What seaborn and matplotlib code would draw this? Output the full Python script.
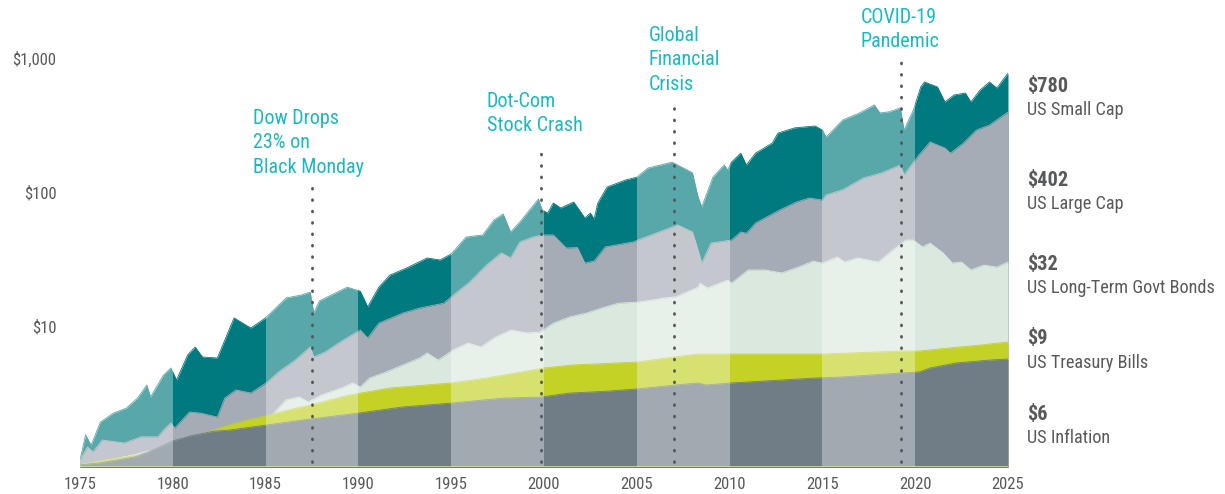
import numpy as np
import pandas as pd
import seaborn as sns
import matplotlib.pyplot as plt
from matplotlib import font_manager as fm
from matplotlib.ticker import NullLocator

sns.set_style("white")

# the original uses a condensed face; use one if the box has it
ttf = fm.fontManager.ttflist
avail = {f.name for f in ttf}
if 'Liberation Sans Narrow' in avail:
    plt.rcParams['font.family'] = ['Liberation Sans Narrow', 'DejaVu Sans']
elif 'Roboto Condensed' in avail:
    plt.rcParams['font.family'] = ['Roboto Condensed', 'DejaVu Sans']
elif any(f.name == 'DejaVu Sans' and f.stretch == 'condensed' for f in ttf):
    plt.rcParams['font.family'] = ['DejaVu Sans']
    plt.rcParams['font.stretch'] = 'condensed'
else:
    plt.rcParams['font.family'] = ['Liberation Sans', 'DejaVu Sans']

# growth of $1 (log scale)
small_cap_year = [1975.0, 1975.1, 1975.3, 1975.6, 1976.1, 1976.8, 1977.5, 1978.1, 1978.6, 1978.8,
                  1979.5, 1979.9, 1980.2, 1980.8, 1981.2, 1981.6, 1982.4, 1983.3, 1984.2, 1985.0,
                  1986.1, 1986.9, 1987.4, 1987.6, 1987.9, 1989.4, 1990.1, 1990.5, 1991.1, 1991.7,
                  1992.6, 1993.7, 1994.4, 1995.0, 1995.8, 1996.7, 1997.3, 1997.8, 1998.2, 1998.7,
                  1999.7, 1999.9, 2000.2, 2000.5, 2000.9, 2001.6, 2001.9, 2002.2, 2002.5, 2002.7,
                  2002.9, 2003.4, 2004.4, 2005.0, 2005.6, 2006.9, 2007.2, 2008.0, 2008.3, 2008.5,
                  2009.1, 2009.7, 2009.9, 2010.1, 2010.6, 2010.9, 2011.4, 2012.3, 2012.6, 2013.5,
                  2014.6, 2015.0, 2015.2, 2016.1, 2017.0, 2017.8, 2018.1, 2018.6, 2019.2, 2019.4,
                  2019.9, 2020.3, 2020.5, 2021.2, 2021.6, 2022.1, 2022.7, 2023.0, 2023.5, 2024.0,
                  2024.4, 2025.0]
small_cap = [1.0, 1.15, 1.54, 1.29, 1.92, 2.24, 2.44, 2.90, 3.63, 2.95,
             4.31, 4.86, 3.95, 6.08, 6.97, 5.87, 5.77, 11.5, 9.66, 11.5,
             16.2, 17.0, 17.9, 12.5, 15.4, 19.5, 18.2, 13.9, 19.5, 24.0,
             27.1, 32.2, 31.1, 34.5, 46.1, 47.8, 61.8, 68.5, 50.3, 59.7,
             88.7, 73.4, 69.7, 82.8, 76.0, 84.2, 73.4, 64.0, 69.7, 62.9,
             82.8, 109, 123, 129, 151, 167, 159, 139, 91.8, 77.3,
             129, 159, 146, 167, 195, 159, 195, 232, 275, 301,
             311, 290, 257, 345, 389, 446, 389, 397, 424, 290,
             409, 608, 662, 608, 470, 530, 548, 470, 577, 662,
             597, 770]

large_cap_year = [1975.0, 1975.4, 1975.7, 1976.2, 1977.4, 1978.3, 1979.2, 1979.6, 1979.9, 1980.1,
                  1980.9, 1981.5, 1982.4, 1982.8, 1983.4, 1984.2, 1985.1, 1985.7, 1986.6, 1987.4,
                  1987.6, 1988.2, 1989.2, 1990.1, 1990.5, 1991.1, 1992.4, 1993.3, 1994.6, 1995.0,
                  1996.0, 1996.9, 1997.7, 1998.2, 1998.7, 1999.4, 1999.9, 2000.5, 2001.2, 2001.8,
                  2002.2, 2002.7, 2003.3, 2004.8, 2006.2, 2007.2, 2008.0, 2008.3, 2008.5, 2009.0,
                  2010.1, 2010.6, 2010.9, 2011.4, 2012.7, 2013.6, 2014.3, 2015.0, 2015.2, 2016.1,
                  2017.2, 2018.2, 2019.2, 2019.4, 2020.2, 2020.8, 2021.6, 2021.9, 2022.6, 2023.3,
                  2024.0, 2025.0]
large_cap = [1.0, 1.25, 1.15, 1.41, 1.34, 1.49, 1.49, 1.73, 1.89, 1.73,
             2.28, 2.24, 2.09, 2.90, 3.33, 3.16, 3.82, 4.54, 5.57, 6.97,
             5.87, 6.39, 7.87, 9.33, 8.13, 10.5, 12.5, 13.6, 14.8, 16.5,
             21.3, 28.5, 35.1, 32.2, 42.4, 46.1, 47.8, 47.8, 38.2, 38.5,
             29.5, 30.5, 38.9, 42.4, 50.3, 56.8, 50.3, 36.9, 29.5, 41.6,
             43.8, 50.3, 49.2, 58.7, 73.4, 84.2, 90.2, 87.0, 95.0, 104,
             127, 139, 159, 134, 189, 236, 213, 195, 232, 290,
             316, 395]

bond_year = [1975.0, 1976.0, 1977.0, 1978.0, 1978.7, 1979.5, 1980.0, 1981.0, 1982.0, 1983.0,
             1984.0, 1985.0, 1985.6, 1986.1, 1986.8, 1987.3, 1988.0, 1989.1, 1989.7, 1990.1,
             1990.6, 1991.5, 1992.4, 1993.3, 1993.7, 1994.3, 1995.1, 1995.9, 1996.6, 1997.3,
             1998.2, 1999.1, 1999.8, 2000.5, 2001.4, 2002.3, 2003.1, 2004.0, 2005.1, 2005.8,
             2006.5, 2007.1, 2008.3, 2008.4, 2008.8, 2009.9, 2010.1, 2011.0, 2011.9, 2012.8,
             2013.7, 2014.5, 2015.0, 2015.8, 2016.2, 2016.9, 2018.0, 2018.8, 2019.5, 2019.9,
             2020.4, 2020.8, 2021.5, 2022.0, 2022.5, 2023.0, 2023.7, 2024.4, 2025.0]
bonds = [0.92, 0.97, 1.03, 1.10, 1.17, 1.12, 1.08, 1.09, 1.23, 1.54,
         1.62, 1.92, 2.36, 2.81, 2.95, 2.71, 3.05, 3.45, 3.76, 3.51,
         4.09, 4.54, 5.12, 5.77, 6.29, 5.57, 6.62, 7.47, 6.97, 8.13,
         9.33, 8.87, 9.02, 10.5, 11.7, 12.5, 13.6, 14.8, 15.1, 15.6,
         16.2, 16.5, 19.5, 20.9, 19.2, 22.0, 20.9, 26.2, 26.2, 24.9,
         27.5, 30.5, 29.5, 32.7, 30.0, 32.2, 30.0, 36.9, 43.8, 43.8,
         38.9, 41.6, 35.1, 29.5, 30.0, 26.2, 28.5, 27.5, 30.0]

tbill_year = [1975.0, 1976.0, 1977.0, 1978.0, 1979.0, 1980.0, 1981.0, 1982.2, 1983.0, 1984.0,
              1985.0, 1986.0, 1987.4, 1989.5, 1991.7, 1995.0, 1996.9, 2000.0, 2001.5, 2005.0,
              2007.0, 2008.3, 2015.0, 2019.2, 2020.2, 2021.8, 2023.5, 2025.0]
tbills = [0.92, 0.98, 1.03, 1.08, 1.16, 1.30, 1.48, 1.67, 1.82, 1.99,
          2.13, 2.32, 2.57, 3.05, 3.45, 3.76, 4.09, 4.86, 5.12, 5.38,
          5.87, 6.18, 6.18, 6.50, 6.50, 6.85, 7.21, 7.60]

infl_year = [1975.0, 1976.0, 1977.0, 1978.0, 1979.0, 1980.0, 1981.0, 1982.2, 1983.0, 1985.0,
             1987.0, 1990.0, 1992.4, 1995.0, 1997.8, 1999.8, 2001.4, 2003.5, 2005.0, 2007.1,
             2008.3, 2008.7, 2010.1, 2014.6, 2016.0, 2019.2, 2020.2, 2020.8, 2022.2, 2024.0,
             2025.0]
inflation = [0.92, 0.95, 1.00, 1.06, 1.20, 1.39, 1.52, 1.64, 1.67, 1.82,
             1.99, 2.24, 2.49, 2.66, 2.90, 2.95, 3.16, 3.27, 3.39, 3.63,
             3.76, 3.63, 3.76, 4.09, 4.16, 4.46, 4.54, 4.86, 5.30, 5.57,
             5.67]

names = ['US Small Cap', 'US Large Cap', 'US Long-Term Govt Bonds', 'US Treasury Bills', 'US Inflation']
end_labels = ['$780', '$402', '$32', '$9', '$6']
colors = ['#007a7e', '#a5acb5', '#dbe8de', '#c3d225', '#707d86']

events = ['Dow Drops\n23% on\nBlack Monday', 'Dot-Com\nStock Crash',
          'Global\nFinancial\nCrisis', 'COVID-19\nPandemic']
event_year = [1987.5, 1999.85, 2007.0, 2019.25]
event_top = [109, 224, 454, 933]

light_bands = [1975, 1985, 1995, 2005, 2015]

fig = plt.figure(figsize=(12.25, 4.94), dpi=100)
ax = fig.add_axes([80 / 1225, 27 / 494, 928 / 1225, 467 / 494])
ax.set_yscale('log')
ymin, ymax = 0.887, 2709

all_years = [small_cap_year, large_cap_year, bond_year, tbill_year, infl_year]
all_vals = [small_cap, large_cap, bonds, tbills, inflation]
for yrs, vals, col in zip(all_years, all_vals, colors):
    ax.fill_between(yrs, 0.5, vals, color=col, lw=0, zorder=1)
    sns.lineplot(x=yrs, y=vals, color=col, lw=0.6, ax=ax, zorder=1)

# alternating 5-year shading
for s in light_bands:
    ax.axvspan(s, s + 5, color='white', alpha=0.35, lw=0, zorder=2)

ax.axhline(ymin * 1.004, color='#cfdbb3', lw=1.2, zorder=3)

txt_teal = '#1ab9c0'
grey = '#58595b'
ax.vlines(event_year, 0.966, event_top, colors='#555555', lw=2.0,
          linestyles=(0, (0.3, 3.8)), capstyle='round', zorder=4)

renderer = fig.canvas.get_renderer()


def fit_size(sample, size, target_px, **kw):
    # shrink a font size so a sample string spans about target_px
    t = fig.text(0, 0, sample, fontsize=size, **kw)
    w = t.get_window_extent(renderer).width
    t.remove()
    return size * min(1.0, target_px / w)


ev_size = fit_size('Black Monday', 14.5, 116)
name_size = fit_size('US Long-Term Govt Bonds', 14.5, 188)
val_size = fit_size('$780', 16.5, 41, fontweight='bold')
tick_size = fit_size('$1,000', 12, 47)

event_text_px = [(253, 109), (487, 92), (649, 26), (861, 8)]
for t, (px, py) in zip(events, event_text_px):
    fig.text(px / 1225, 1 - py / 494, t, color=txt_teal, fontsize=ev_size,
             ha='left', va='top', linespacing=1.36)

label_px = [86, 180, 264, 339, 414]
for lab, name, py in zip(end_labels, names, label_px):
    fig.text(1027 / 1225, 1 - py / 494, lab, color=grey, fontsize=val_size,
             fontweight='bold', ha='left', va='center')
    fig.text(1027 / 1225, 1 - (py + 24) / 494, name, color=grey, fontsize=name_size,
             ha='left', va='center')

ax.set_xlim(1975, 2025)
ax.set_ylim(ymin, ymax)
ax.set_xticks(list(range(1975, 2026, 5)))
ax.set_yticks([10, 100, 1000])
ax.set_yticklabels(['$10', '$100', '$1,000'])
ax.yaxis.set_minor_locator(NullLocator())
ax.tick_params(axis='both', length=0, labelcolor=grey, labelsize=tick_size)
ax.tick_params(axis='y', pad=17)
ax.tick_params(axis='x', pad=7)
ax.set_xlabel('')
ax.set_ylabel('')
sns.despine(ax=ax, left=True, bottom=True)
ax.grid(False)

fig.savefig('out.png', dpi=100)
